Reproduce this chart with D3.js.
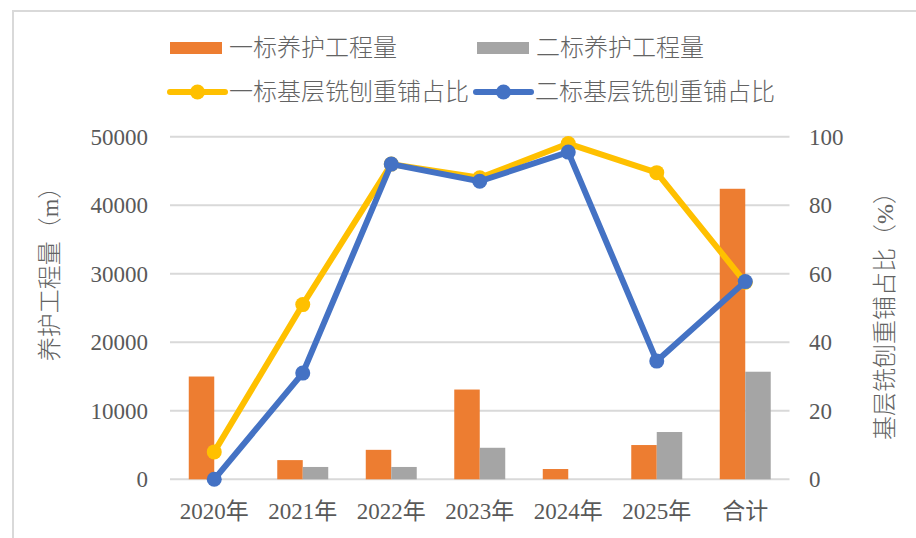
<!DOCTYPE html>
<html>
<head>
<meta charset="utf-8">
<script src="https://cdn.jsdelivr.net/npm/d3@7"></script>
<style>
  body { margin: 0; background: #fff; }
  svg text { font-family: "Liberation Serif", "Noto Sans CJK SC", serif; fill: #595959; }
  svg text.cjk { font-weight: 300; fill: #636363; }
</style>
</head>
<body>
<svg width="916" height="538"></svg>
<script>
var categories = ["2020年", "2021年", "2022年", "2023年", "2024年", "2025年", "合计"];
var bid1Length = [15000, 2800, 4300, 13100, 1500, 5000, 42400];
var bid2Length = [0, 1800, 1800, 4600, 0, 6900, 15700];
var bid1Ratio = [8, 51, 92, 88, 98, 89.5, 57.5];
var bid2Ratio = [0, 31, 92, 87, 95.5, 34.5, 57.7];
var leftTicks = [0, 10000, 20000, 30000, 40000, 50000];
var rightTicks = [0, 20, 40, 60, 80, 100];

var svg = d3.select("svg"),
    width = +svg.attr("width"),
    height = +svg.attr("height");

var orange = "#ED7D31", gray = "#A5A5A5", yellow = "#FFC000", blue = "#4472C4";

// chart frame (only top + left edges visible)
svg.append("path")
    .attr("d", "M13," + (height + 5) + "V11H" + (width + 5))
    .attr("fill", "none")
    .attr("stroke", "#d9d9d9")
    .attr("stroke-width", 2);

var x = d3.scaleBand().domain(categories).range([170, 789.5]).padding(0);
var yL = d3.scaleLinear().domain([0, 50000]).range([479.3, 136.7]);
var yR = d3.scaleLinear().domain([0, 100]).range([479.3, 136.7]);
var barW = x.bandwidth() * 0.288;
function cx(c) { return x(c) + x.bandwidth() / 2; }

// gridlines
svg.append("g").selectAll("line")
  .data(leftTicks)
  .enter().append("line")
    .attr("x1", x.range()[0])
    .attr("x2", x.range()[1])
    .attr("y1", function(d) { return yL(d); })
    .attr("y2", function(d) { return yL(d); })
    .attr("stroke", "#d9d9d9")
    .attr("stroke-width", 2);

// left tick labels
svg.append("g").selectAll("text")
  .data(leftTicks)
  .enter().append("text")
    .attr("x", 148)
    .attr("y", function(d) { return yL(d); })
    .attr("dy", "0.35em")
    .attr("text-anchor", "end")
    .attr("font-size", 23)
    .text(function(d) { return d; });

// right tick labels
svg.append("g").selectAll("text")
  .data(rightTicks)
  .enter().append("text")
    .attr("x", 809)
    .attr("y", function(d) { return yR(d); })
    .attr("dy", "0.35em")
    .attr("font-size", 23)
    .text(function(d) { return d; });

// x labels
svg.append("g").selectAll("text")
  .data(categories)
  .enter().append("text")
    .attr("x", function(d) { return cx(d); })
    .attr("y", 511)
    .attr("dy", "0.35em")
    .attr("text-anchor", "middle")
    .attr("font-size", 23)
    .text(function(d) { return d; });

// bars
svg.append("g").selectAll("rect")
  .data(categories)
  .enter().append("rect")
    .attr("x", function(d) { return cx(d) - barW; })
    .attr("y", function(d, i) { return yL(bid1Length[i]); })
    .attr("width", barW)
    .attr("height", function(d, i) { return yL(0) - yL(bid1Length[i]); })
    .attr("fill", orange);

svg.append("g").selectAll("rect")
  .data(categories)
  .enter().append("rect")
    .attr("x", function(d) { return cx(d); })
    .attr("y", function(d, i) { return yL(bid2Length[i]); })
    .attr("width", barW)
    .attr("height", function(d, i) { return yL(0) - yL(bid2Length[i]); })
    .attr("fill", gray);

// lines
function drawLine(vals, color) {
  var pts = categories.map(function(c, i) { return [cx(c), yR(vals[i])]; });
  svg.append("path")
      .attr("d", d3.line()(pts))
      .attr("fill", "none")
      .attr("stroke", color)
      .attr("stroke-width", 6)
      .attr("stroke-linejoin", "round");
  svg.append("g").selectAll("circle")
    .data(pts)
    .enter().append("circle")
      .attr("cx", function(d) { return d[0]; })
      .attr("cy", function(d) { return d[1]; })
      .attr("r", 7.5)
      .attr("fill", color);
}
drawLine(bid1Ratio, yellow);
drawLine(bid2Ratio, blue);

// axis titles
svg.append("text")
    .attr("class", "cjk")
    .attr("transform", "translate(50,268) rotate(-90)")
    .attr("text-anchor", "middle")
    .attr("dy", "0.35em")
    .attr("font-size", 24)
    .text("养护工程量（m）");

svg.append("text")
    .attr("class", "cjk")
    .attr("transform", "translate(885,310) rotate(-90)")
    .attr("text-anchor", "middle")
    .attr("dy", "0.35em")
    .attr("font-size", 24)
    .text("基层铣刨重铺占比（%）");

// legend
var legendItems = [
  { name: "一标养护工程量", type: "bar", color: orange, x: 170, y: 48 },
  { name: "二标养护工程量", type: "bar", color: gray, x: 477, y: 48 },
  { name: "一标基层铣刨重铺占比", type: "line", color: yellow, x: 170, y: 92 },
  { name: "二标基层铣刨重铺占比", type: "line", color: blue, x: 476, y: 92 }
];
var legend = svg.append("g").selectAll("g")
  .data(legendItems)
  .enter().append("g")
    .attr("transform", function(d) { return "translate(" + d.x + "," + d.y + ")"; });

legend.filter(function(d) { return d.type == "bar"; })
  .append("rect")
    .attr("x", 0).attr("y", -6).attr("width", 52).attr("height", 12)
    .attr("fill", function(d) { return d.color; });

legend.filter(function(d) { return d.type == "line"; })
  .append("line")
    .attr("x1", 0).attr("x2", 55)
    .attr("stroke", function(d) { return d.color; })
    .attr("stroke-width", 6)
    .attr("stroke-linecap", "round");
legend.filter(function(d) { return d.type == "line"; })
  .append("circle")
    .attr("cx", 27.5).attr("r", 7.5)
    .attr("fill", function(d) { return d.color; });

legend.append("text")
    .attr("class", "cjk")
    .attr("x", 59)
    .attr("dy", "0.35em")
    .attr("font-size", 24)
    .text(function(d) { return d.name; });
</script>
</body>
</html>
